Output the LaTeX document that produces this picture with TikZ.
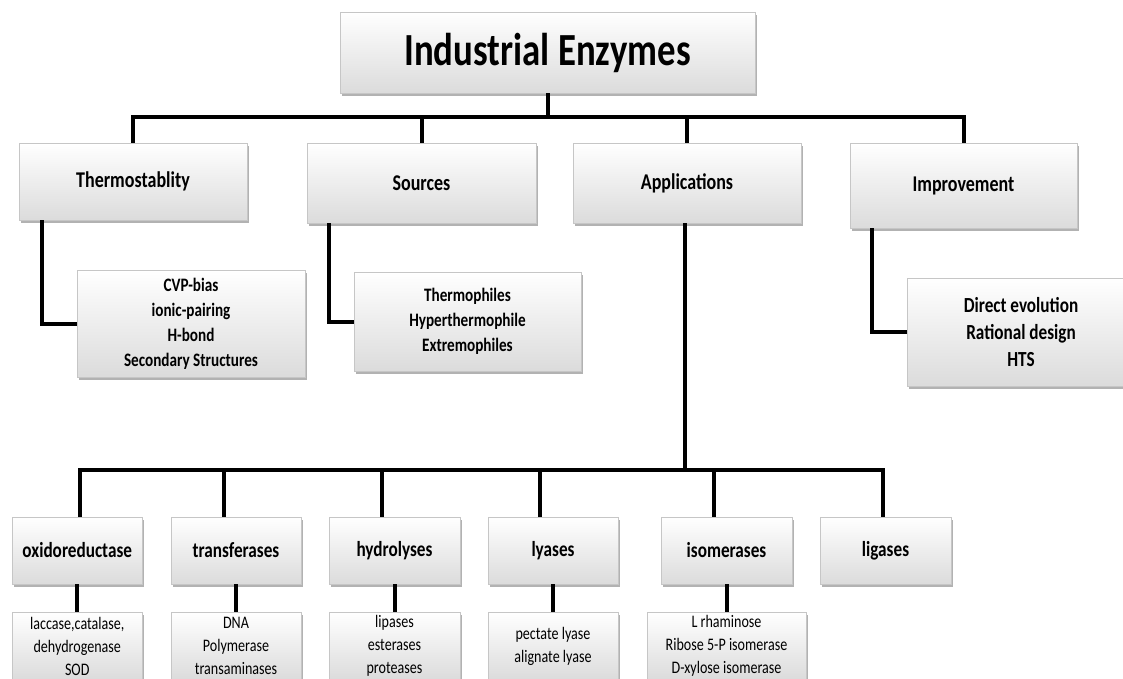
\documentclass[tikz,border=0pt]{standalone}
\usepackage{fontspec}
\setmainfont{Carlito}[FakeStretch=0.8]
\usetikzlibrary{shadows}
\tikzset{
  box/.style={draw=gray!45, line width=0.6pt, top color=white, bottom color=gray!28,
    drop shadow={shadow xshift=1.5pt, shadow yshift=-2.5pt, opacity=0.3, fill=black},
    inner sep=2pt, align=center, text=black},
  conn/.style={line width=4pt, line join=miter, draw=black},
  ttl/.style={font=\fontsize{46}{50}\selectfont\bfseries},
  lvl/.style={font=\fontsize{22.5}{27}\selectfont\bfseries},
  sub/.style={font=\fontsize{19}{25}\selectfont\bfseries},
  subb/.style={font=\fontsize{21.5}{27}\selectfont\bfseries},
  cls/.style={font=\fontsize{21.5}{26}\selectfont\bfseries},
  ex/.style={font=\fontsize{17.6}{23}\selectfont}
}
\begin{document}
\begin{tikzpicture}[x=1pt,y=-1pt]
\useasboundingbox (0,0) rectangle (1123,678);
\clip (0,0) rectangle (1123,678);

% title
\node[box, ttl, minimum width=415, minimum height=81] (title) at (547.5,52.5) {Industrial Enzymes};

% level 2
\node[box, lvl, minimum width=228, minimum height=77] (thermo) at (133,181.5) {Thermostablity};
\node[box, lvl, minimum width=229, minimum height=80] (src) at (421.5,183) {Sources};
\node[box, lvl, minimum width=228, minimum height=80] (app) at (687,183) {Applications};
\node[box, lvl, minimum width=227, minimum height=85] (imp) at (963.5,185.5) {Improvement};

% level 2 children
\node[box, sub, minimum width=228, minimum height=107] (thc) at (191,323.5) {CVP-bias\\ionic-pairing\\H-bond\\Secondary Structures};
\node[box, sub, minimum width=227, minimum height=99] (srcc) at (467.5,321.5) {Thermophiles\\Hyperthermophile\\Extremophiles};
\node[box, subb, minimum width=228, minimum height=108] (impc) at (1021,332) {Direct evolution\\Rational design\\HTS};

% enzyme classes
\node[box, cls, minimum width=129.5, minimum height=67] (ox) at (77.25,550.5) {oxidoreductase};
\node[box, cls, minimum width=130, minimum height=67] (tr) at (236,550.5) {transferases};
\node[box, cls, minimum width=131, minimum height=67] (hy) at (394.5,550.5) {hydrolyses};
\node[box, cls, minimum width=130, minimum height=67] (ly) at (553,550.5) {lyases};
\node[box, cls, minimum width=131, minimum height=67] (is) at (726.5,550.5) {isomerases};
\node[box, cls, minimum width=131, minimum height=67] (lg) at (885.5,550.5) {ligases};

% examples
\node[box, ex, minimum width=129.5, minimum height=68] (oxc) at (77.25,646) {laccase,catalase,\\dehydrogenase\\SOD};
\node[box, ex, minimum width=130, minimum height=68] (trc) at (236,646) {DNA\\Polymerase\\transaminases};
\node[box, ex, minimum width=131, minimum height=68] (hyc) at (394.5,646) {lipases\\esterases\\proteases};
\node[box, ex, minimum width=130, minimum height=68] (lyc) at (553,646) {pectate lyase\\alignate lyase};
\node[box, ex, minimum width=159, minimum height=68] (isc) at (726.5,646) {L rhaminose\\Ribose 5-P isomerase\\D-xylose isomerase};

% connectors level 1 -> 2
\coordinate (r2) at (548,117);
\draw[conn] (title.south) -- (title.south |- r2);
\draw[conn] (thermo.north) |- (r2) -| (imp.north);
\draw[conn] (src.north) -- (src.north |- r2);
\draw[conn] (app.north) -- (app.north |- r2);

% level 2 -> children
\coordinate (thx) at (42,0);
\coordinate (srx) at (329,0);
\coordinate (imx) at (872,0);
\draw[conn] (thermo.south -| thx) |- (thc.west);
\draw[conn] (src.south -| srx) |- (srcc.west);
\draw[conn] (imp.south -| imx) |- (impc.west);

% applications -> classes
\coordinate (r3) at (685,470);
\coordinate (d1) at (80,470);
\coordinate (d2) at (224,470);
\coordinate (d3) at (382,470);
\coordinate (d4) at (540,470);
\coordinate (d5) at (714,470);
\coordinate (d6) at (883,470);
\draw[conn] (app.south -| r3) -- (r3);
\draw[conn] (ox.north -| d1) -- (d1) -- (d6) -- (lg.north -| d6);
\draw[conn] (d2) -- (tr.north -| d2);
\draw[conn] (d3) -- (hy.north -| d3);
\draw[conn] (d4) -- (ly.north -| d4);
\draw[conn] (d5) -- (is.north -| d5);

% classes -> examples
\draw[conn] (ox.south) -- (oxc.north);
\draw[conn] (tr.south) -- (trc.north);
\draw[conn] (hy.south) -- (hyc.north);
\draw[conn] (ly.south) -- (lyc.north);
\draw[conn] (is.south) -- (isc.north);
\end{tikzpicture}
\end{document}
